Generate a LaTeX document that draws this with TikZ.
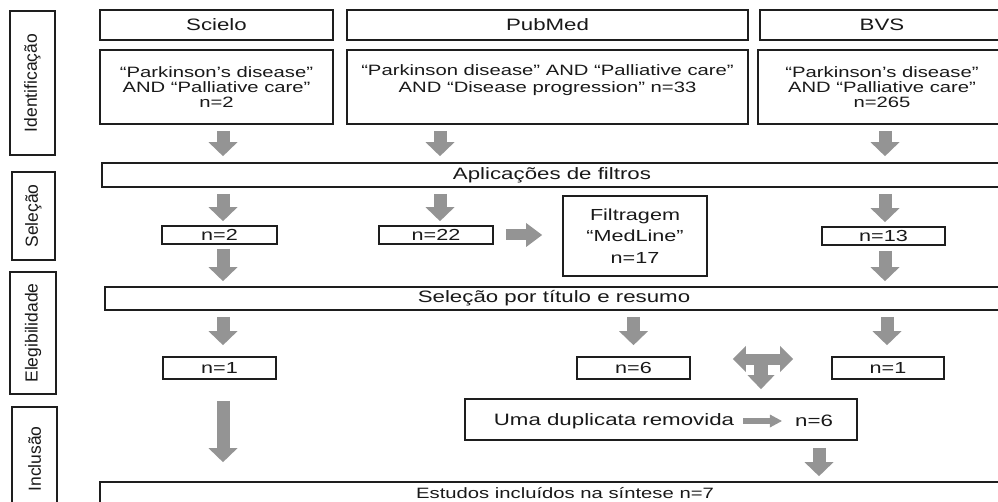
\documentclass[tikz,border=0pt]{standalone}
\usepackage{fontspec}
\setmainfont{Liberation Sans}[FakeStretch=1.35]
\newfontfamily\labfont{Liberation Sans}
\usetikzlibrary{arrows.meta,calc}
\definecolor{txt}{RGB}{25,25,25}
\definecolor{ln}{RGB}{30,30,30}
\definecolor{arr}{RGB}{148,148,148}
\tikzset{
  box/.style={draw=ln, line width=1.7pt, rectangle, inner sep=0pt, align=center, text=txt},
  lab/.style={box, rotate=90, font=\labfont\fontsize{17.5}{20}\selectfont},
  hdr/.style={box, font=\fontsize{16.5}{19}\selectfont},
  qry/.style={box, font=\fontsize{15}{15}\selectfont},
  barbox/.style={box, font=\fontsize{16.5}{19}\selectfont},
  nbox/.style={box, font=\fontsize{16}{19}\selectfont},
  plain/.style={inner sep=0pt, align=center, text=txt},
  dn/.style={draw=arr, line width=13pt, -{Triangle[width=29pt,length=14pt,line width=0pt]}},
  rt/.style={draw=arr, line width=11pt, -{Triangle[width=24pt,length=16pt,line width=0pt]}},
  small/.style={draw=arr, line width=6pt, -{Triangle[width=13pt,length=12pt,line width=0pt]}},
  dbl/.style={draw=arr, line width=11pt, {Triangle[width=26pt,length=13pt,line width=0pt]}-{Triangle[width=26pt,length=13pt,line width=0pt]}},
  stem/.style={draw=arr, line width=14pt, -{Triangle[width=27pt,length=14pt,line width=0pt]}},
}
\begin{document}
\begin{tikzpicture}[x=1pt,y=-1pt]
\useasboundingbox (0,0) rectangle (998,502);
\clip (0,0) rectangle (998,502);

% stage labels
\node[lab, minimum width=144pt, minimum height=45pt] (l1) at (32.5,83) {Identificação};
\node[lab, minimum width=88pt, minimum height=43pt] (l2) at (33.5,216) {Seleção};
\node[lab, minimum width=122pt, minimum height=46pt] (l3) at (33,333) {Elegibilidade};
\node[lab, minimum width=104pt, minimum height=45pt] (l4) at (34.5,459) {Inclusão};

% headers
\node[hdr, minimum width=233pt, minimum height=30pt] (hs) at (216.5,25) {Scielo};
\node[hdr, minimum width=401pt, minimum height=30pt] (hp) at (547.5,25) {PubMed};
\node[hdr, minimum width=244pt, minimum height=30pt] (hb) at (882,25) {BVS};

% queries
\node[qry, minimum width=233pt, minimum height=74pt] (qs) at (216.5,87) {“Parkinson’s disease”\\AND “Palliative care”\\n=2};
\node[qry, minimum width=401pt, minimum height=74pt] (qp) at (547.5,87) {};
\node[plain, font=\fontsize{15}{16.5}\selectfont] (qpt) at (547.5,80) {“Parkinson disease” AND “Palliative care”\\AND “Disease progression” n=33};
\node[qry, minimum width=248pt, minimum height=74pt] (qb) at (882,87) {“Parkinson’s disease”\\AND “Palliative care”\\n=265};

% filters
\node[barbox, minimum width=900pt, minimum height=24pt] (apl) at (552,175) {Aplicações de filtros};
\node[nbox, minimum width=115pt, minimum height=18pt] (n2) at (219.5,235) {n=2};
\node[nbox, minimum width=114pt, minimum height=18pt] (n22) at (436,235) {n=22};
\node[box, font=\fontsize{16}{21.5}\selectfont, minimum width=144pt, minimum height=80pt] (filt) at (635,236) {Filtragem\\“MedLine”\\n=17};
\node[nbox, minimum width=123pt, minimum height=18pt] (n13) at (883.5,236) {n=13};

% selection
\node[barbox, minimum width=898pt, minimum height=23pt] (sel) at (554,298.5) {Seleção por título e resumo};
\node[nbox, minimum width=113pt, minimum height=22pt] (ne1) at (219.5,368) {n=1};
\node[nbox, minimum width=113pt, minimum height=22pt] (n6) at (633.5,368) {n=6};
\node[nbox, minimum width=112pt, minimum height=22pt] (nb1) at (888,368) {n=1};

% duplicates
\node[box, minimum width=392pt, minimum height=41pt] (uma) at (661,419.5) {};
\node[plain, font=\fontsize{16.5}{19}\selectfont] (umat) at (614,421) {Uma duplicata removida};
\node[plain, font=\fontsize{16.5}{19}\selectfont] (n6t) at (814,421) {n=6};

% result
\node[box, font=\fontsize{15}{18}\selectfont, minimum width=930pt, minimum height=22pt] (est) at (565,493) {Estudos incluídos na síntese n=7};

% arrows
\draw[dn, shorten <=6pt, shorten >=6pt] ([xshift=6.5pt]qs.south) -- ([xshift=6.5pt]qs.south |- apl.north);
\draw[dn, shorten <=6pt, shorten >=6pt] ([xshift=4pt]n22.north |- qp.south) -- ([xshift=4pt]n22.north |- apl.north);
\draw[dn, shorten <=6pt, shorten >=6pt] ([xshift=3pt]qb.south) -- ([xshift=3pt]qb.south |- apl.north);

\draw[dn, shorten <=6pt, shorten >=4pt] ([xshift=3.5pt]n2.north |- apl.south) -- ([xshift=3.5pt]n2.north);
\draw[dn, shorten <=6pt, shorten >=4pt] ([xshift=4pt]n22.north |- apl.south) -- ([xshift=4pt]n22.north);
\draw[dn, shorten <=6pt, shorten >=4pt] ([xshift=1.5pt]n13.north |- apl.south) -- ([xshift=1.5pt]n13.north);

\draw[rt, shorten <=12pt, shorten >=20pt] (n22.east) -- (n22.east -| filt.west);

\draw[dn, shorten <=4pt, shorten >=5pt] ([xshift=3.5pt]n2.south) -- ([xshift=3.5pt]n2.south |- sel.north);
\draw[dn, shorten <=5pt, shorten >=5pt] ([xshift=1.5pt]n13.south) -- ([xshift=1.5pt]n13.south |- sel.north);

\draw[dn, shorten <=6pt, shorten >=11pt] ([xshift=3.5pt]ne1.north |- sel.south) -- ([xshift=3.5pt]ne1.north);
\draw[dn, shorten <=6pt, shorten >=11pt] (n6.north |- sel.south) -- (n6.north);
\draw[dn, shorten <=6pt, shorten >=11pt] ([xshift=-1pt]nb1.north |- sel.south) -- ([xshift=-1pt]nb1.north);

\draw[dn, shorten <=21pt, shorten >=19pt] ([xshift=3.5pt]ne1.south) -- ([xshift=3.5pt]ne1.south |- est.north);

\coordinate (tc) at ($([yshift=9pt]n6.east)!0.5!([yshift=9pt]nb1.west)$);
\draw[stem, shorten >=9pt] (tc) -- (tc |- uma.north);
\draw[dbl, shorten <=42pt, shorten >=38pt] ([yshift=9pt]n6.east) -- ([yshift=9pt]nb1.west);

\draw[dn, shorten <=7pt, shorten >=5pt] ([xshift=158pt]uma.south) -- ([xshift=158pt]uma.south |- est.north);
\draw[small, shorten <=9pt, shorten >=13pt] (umat.east) -- (n6t.west);
\end{tikzpicture}
\end{document}
